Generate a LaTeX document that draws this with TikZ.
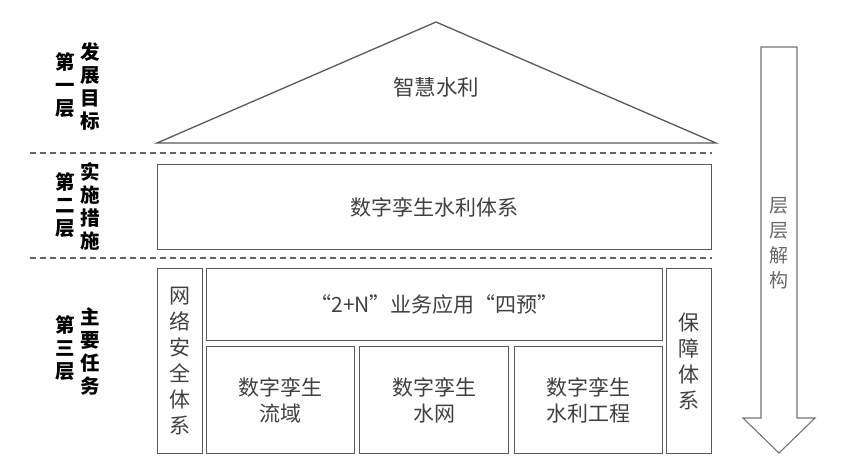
\documentclass[tikz,border=0pt]{standalone}
\usepackage{fontspec}
\setmainfont{Noto Sans CJK SC}
\newfontfamily\cjk{Noto Sans CJK SC}
\begin{document}
\begin{tikzpicture}[x=1pt,y=-1pt,
  line/.style={draw=black!65, line width=1.3pt},
  box/.style={line, rectangle, inner sep=0pt, anchor=north west, align=center,
     font=\cjk\fontsize{21}{26}\selectfont, text=black!75},
  vtext/.style={inner sep=0pt, align=center, font=\cjk\fontsize{21.5}{26}\selectfont, text=black!75},
  lbl/.style={inner sep=0pt, align=center, font=\cjk\bfseries\fontsize{19.5}{23}\selectfont, text=black},
  sep/.style={draw=black!60, line width=1.3pt, dash pattern=on 6pt off 4pt}]
\useasboundingbox (0,0) rectangle (865,475);

% layer 1 roof
\coordinate (apex) at (436,22);
\coordinate (roofL) at (157,143);
\coordinate (roofR) at (716,143);
\draw[line, line join=miter] (roofL) -- (apex) -- (roofR) -- cycle;
\node[vtext] (goal) at (436,87) {智慧水利};

% separators
\coordinate (s1a) at (30,153); \coordinate (s1b) at (712,153);
\coordinate (s2a) at (30,258); \coordinate (s2b) at (712,258);
\draw[sep] (s1a) -- (s1b);
\draw[sep] (s2a) -- (s2b);

% layer 2
\node[box, minimum width=554pt, minimum height=85pt] (sys) at (157,164) {数字孪生水利体系};

% layer 3
\node[box, minimum width=45pt, minimum height=185pt] (net) at (157,268) {网\\络\\安\\全\\体\\系};
\node[box, minimum width=456pt, minimum height=72pt] (app) at (206,268) {“2+N”业务应用“四预”};
\node[box, minimum width=148pt, minimum height=107pt] (b1) at (206,346) {数字孪生\\流域};
\node[box, minimum width=149pt, minimum height=107pt] (b2) at (359,346) {数字孪生\\水网};
\node[box, minimum width=148pt, minimum height=107pt] (b3) at (514,346) {数字孪生\\水利工程};
\node[box, minimum width=45pt, minimum height=185pt] (bao) at (666,268) {保\\障\\体\\系};

% left labels
\node[lbl] (l1a) at (65,85) {第\\一\\层};
\node[lbl] (l1b) at (90,86) {发\\展\\目\\标};
\node[lbl] (l2a) at (65,205) {第\\二\\层};
\node[lbl] (l2b) at (90,206) {实\\施\\措\\施};
\node[lbl] (l3a) at (65,348) {第\\三\\层};
\node[lbl] (l3b) at (90,352) {主\\要\\任\\务};

% right arrow
\draw[draw=black!55, line width=1.1pt, line join=miter]
  (761,47) -- (797,47) -- (797,418) -- (815,418) -- (779,453) -- (743,418) -- (761,418) -- cycle;
\node[inner sep=0pt, align=center, font=\cjk\fontsize{19}{25}\selectfont, text=black!60] (arr) at (779,243) {层\\层\\解\\构};
\end{tikzpicture}
\end{document}
